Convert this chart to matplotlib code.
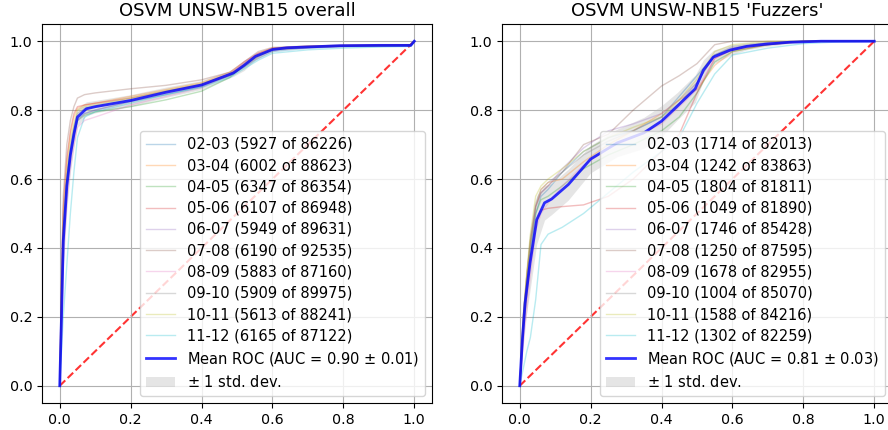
import matplotlib
matplotlib.use("Agg")
import matplotlib.pyplot as plt
import numpy as np

periods = ["02-03", "03-04", "04-05", "05-06", "06-07", "07-08", "08-09", "09-10", "10-11", "11-12"]

# ---- overall panel ----
overall_counts = [(5927, 86226), (6002, 88623), (6347, 86354), (6107, 86948), (5949, 89631),
                  (6190, 92535), (5883, 87160), (5909, 89975), (5613, 88241), (6165, 87122)]
overall_fpr = [0, 0.005, 0.01, 0.02, 0.03, 0.04, 0.05, 0.07, 0.1, 0.2, 0.3, 0.4, 0.48, 0.52,
               0.56, 0.6, 0.7, 0.8, 0.9, 0.99, 1.0]
overall_tpr = [
    [0, 0.25, 0.45, 0.60, 0.68, 0.74, 0.775, 0.79, 0.80, 0.825, 0.845, 0.868, 0.90, 0.925, 0.95, 0.97, 0.98, 0.984, 0.985, 0.987, 1],
    [0, 0.30, 0.50, 0.65, 0.73, 0.78, 0.805, 0.815, 0.82, 0.84, 0.86, 0.88, 0.91, 0.94, 0.965, 0.98, 0.985, 0.988, 0.989, 0.99, 1],
    [0, 0.20, 0.42, 0.58, 0.67, 0.73, 0.77, 0.785, 0.795, 0.81, 0.83, 0.855, 0.895, 0.93, 0.96, 0.975, 0.983, 0.986, 0.987, 0.988, 1],
    [0, 0.30, 0.52, 0.66, 0.74, 0.79, 0.81, 0.815, 0.82, 0.835, 0.855, 0.875, 0.905, 0.935, 0.965, 0.98, 0.986, 0.988, 0.989, 0.99, 1],
    [0, 0.18, 0.40, 0.57, 0.66, 0.72, 0.77, 0.79, 0.80, 0.825, 0.848, 0.87, 0.90, 0.93, 0.955, 0.975, 0.982, 0.986, 0.987, 0.988, 1],
    [0, 0.32, 0.55, 0.70, 0.77, 0.81, 0.835, 0.845, 0.85, 0.862, 0.872, 0.888, 0.91, 0.94, 0.97, 0.982, 0.986, 0.988, 0.989, 0.99, 1],
    [0, 0.15, 0.36, 0.53, 0.63, 0.70, 0.75, 0.77, 0.78, 0.815, 0.84, 0.865, 0.905, 0.94, 0.965, 0.975, 0.982, 0.985, 0.986, 0.987, 1],
    [0, 0.22, 0.44, 0.60, 0.69, 0.75, 0.79, 0.805, 0.81, 0.83, 0.853, 0.873, 0.90, 0.925, 0.955, 0.975, 0.982, 0.986, 0.987, 0.988, 1],
    [0, 0.25, 0.47, 0.62, 0.71, 0.76, 0.80, 0.81, 0.815, 0.835, 0.857, 0.877, 0.905, 0.93, 0.958, 0.977, 0.984, 0.987, 0.988, 0.989, 1],
    [0, 0.10, 0.20, 0.35, 0.50, 0.62, 0.72, 0.78, 0.795, 0.82, 0.845, 0.866, 0.895, 0.92, 0.945, 0.965, 0.975, 0.98, 0.983, 0.985, 1],
]
overall_mean_fpr = [0, 0.005, 0.01, 0.02, 0.03, 0.04, 0.05, 0.075, 0.1, 0.2, 0.3, 0.4, 0.49,
                    0.52, 0.552, 0.6, 0.641, 0.79, 0.9, 0.99, 1.0]
overall_mean_tpr = [0, 0.20, 0.42, 0.58, 0.67, 0.73, 0.78, 0.804, 0.810, 0.828, 0.852, 0.873, 0.908,
                    0.930, 0.956, 0.976, 0.981, 0.987, 0.988, 0.988, 1.0]
overall_std = [0, 0.06, 0.08, 0.07, 0.05, 0.04, 0.025, 0.02, 0.018, 0.017, 0.015, 0.013, 0.01,
               0.015, 0.01, 0.006, 0.004, 0.003, 0.003, 0.003, 0]
overall_auc = "0.90 $\\pm$ 0.01"

# ---- Fuzzers panel ----
fuzz_counts = [(1714, 82013), (1242, 83863), (1804, 81811), (1049, 81890), (1746, 85428),
               (1250, 87595), (1678, 82955), (1004, 85070), (1588, 84216), (1302, 82259)]
fuzz_fpr = [0, 0.01, 0.02, 0.03, 0.045, 0.06, 0.08, 0.12, 0.18, 0.25, 0.32, 0.4, 0.45, 0.5,
            0.55, 0.6, 0.7, 0.8, 0.9, 1.0]
fuzz_tpr = [
    [0, 0.15, 0.27, 0.38, 0.50, 0.55, 0.57, 0.62, 0.68, 0.72, 0.74, 0.78, 0.84, 0.90, 0.96, 0.98, 0.995, 1, 1, 1],
    [0, 0.20, 0.32, 0.42, 0.52, 0.57, 0.59, 0.60, 0.65, 0.70, 0.74, 0.79, 0.83, 0.86, 0.93, 0.97, 0.99, 1, 1, 1],
    [0, 0.18, 0.30, 0.40, 0.50, 0.54, 0.55, 0.58, 0.63, 0.67, 0.70, 0.74, 0.78, 0.85, 0.94, 0.97, 0.99, 1, 1, 1],
    [0, 0.16, 0.26, 0.36, 0.47, 0.51, 0.515, 0.52, 0.525, 0.55, 0.60, 0.68, 0.73, 0.85, 0.95, 0.975, 0.99, 1, 1, 1],
    [0, 0.17, 0.29, 0.40, 0.52, 0.56, 0.58, 0.63, 0.69, 0.74, 0.76, 0.79, 0.83, 0.88, 0.96, 0.98, 0.995, 1, 1, 1],
    [0, 0.19, 0.32, 0.42, 0.52, 0.56, 0.58, 0.62, 0.70, 0.73, 0.80, 0.87, 0.90, 0.935, 0.99, 1, 1, 1, 1, 1],
    [0, 0.12, 0.22, 0.32, 0.45, 0.50, 0.53, 0.58, 0.64, 0.69, 0.72, 0.76, 0.81, 0.86, 0.95, 0.98, 0.995, 1, 1, 1],
    [0, 0.20, 0.32, 0.43, 0.53, 0.57, 0.59, 0.62, 0.67, 0.71, 0.74, 0.78, 0.82, 0.88, 0.96, 0.985, 0.997, 1, 1, 1],
    [0, 0.21, 0.33, 0.44, 0.55, 0.58, 0.60, 0.63, 0.68, 0.72, 0.75, 0.78, 0.83, 0.89, 0.97, 0.99, 1, 1, 1, 1],
    [0, 0.05, 0.10, 0.14, 0.25, 0.41, 0.44, 0.46, 0.50, 0.56, 0.62, 0.68, 0.72, 0.82, 0.905, 0.96, 0.98, 0.993, 0.998, 1],
]
fuzz_mean_fpr = [0, 0.0075, 0.015, 0.029, 0.048, 0.07, 0.09, 0.137, 0.2, 0.275, 0.35, 0.4, 0.444,
                 0.495, 0.518, 0.546, 0.593, 0.64, 0.69, 0.76, 0.85, 1.0]
fuzz_mean_tpr = [0, 0.134, 0.24, 0.356, 0.482, 0.531, 0.542, 0.584, 0.658, 0.705, 0.734, 0.768, 0.811,
                 0.862, 0.916, 0.954, 0.974, 0.985, 0.991, 0.997, 1.0, 1.0]
fuzz_std = [0, 0.04, 0.06, 0.08, 0.07, 0.05, 0.045, 0.045, 0.04, 0.04, 0.045, 0.045, 0.04, 0.04,
            0.03, 0.02, 0.015, 0.01, 0.007, 0.004, 0.001, 0]
fuzz_auc = "0.81 $\\pm$ 0.03"

titles = ["OSVM UNSW-NB15 overall", "OSVM UNSW-NB15 'Fuzzers'"]

fig = plt.figure(figsize=(8.88, 4.30), dpi=100)
W, H = 888, 430
ax1 = fig.add_axes([42 / W, 27 / H, 390 / W, 379 / H])
ax2 = fig.add_axes([502 / W, 27 / H, 390 / W, 379 / H])

panels = [
    (ax1, overall_fpr, overall_tpr, overall_counts, overall_mean_fpr, overall_mean_tpr, overall_std, overall_auc),
    (ax2, fuzz_fpr, fuzz_tpr, fuzz_counts, fuzz_mean_fpr, fuzz_mean_tpr, fuzz_std, fuzz_auc),
]

for i, (ax, fpr, tprs, counts, mfpr, mtpr, std, auc) in enumerate(panels):
    ax.plot([0, 1], [0, 1], linestyle='--', lw=1.5, color='r', alpha=0.8, zorder=1)
    for p, t, (a, b) in zip(periods, tprs, counts):
        ax.plot(fpr, t, lw=1, alpha=0.3, label=f"{p} ({a} of {b})")
    m = np.array(mtpr)
    s = np.array(std)
    ax.plot(mfpr, m, color='b', lw=2, alpha=0.8, label=f"Mean ROC (AUC = {auc})")
    ax.fill_between(mfpr, np.minimum(m + s, 1), np.maximum(m - s, 0), color='grey', alpha=0.2,
                    label=r"$\pm$ 1 std. dev.", lw=0)
    ax.set_xlim(-0.05, 1.05)
    ax.set_ylim(-0.05, 1.05)
    ax.grid(True)
    ax.tick_params(labelsize=10.3)
    ax.set_title(titles[i], fontsize=13)
    ax.legend(loc="lower right", fontsize=10.5, labelspacing=0.43)

fig.savefig("out.png", dpi=100)
